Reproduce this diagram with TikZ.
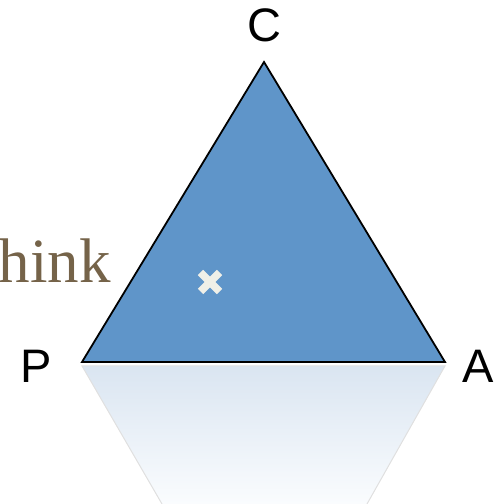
\documentclass[tikz,border=0pt]{standalone}
\usepackage{fontspec}
\setmainfont{Liberation Serif}
\newfontfamily\vertexfont{Liberation Sans}
\usepackage{xcolor}
\usepackage{tikz}
\usetikzlibrary{calc}

\definecolor{triblue}{RGB}{95,149,201}
\definecolor{reflblue}{RGB}{218,229,241}
\definecolor{reflend}{RGB}{250,252,254}
\definecolor{wordbrown}{RGB}{117,99,73}
\definecolor{crosswhite}{RGB}{240,240,232}

\begin{document}
\begin{tikzpicture}[
  x=1pt, y=1pt,
  vlabel/.style={anchor=base, inner sep=0pt, font=\vertexfont\fontsize{47}{50}\selectfont},
  tri/.style={draw=black, line width=1.8pt, fill=triblue, line join=miter},
  refl/.style={top color=reflblue, bottom color=reflend},
  reflside/.style={draw=black!12, line width=1pt},
  crossline/.style={draw=crosswhite, line width=7.5pt},
]
\useasboundingbox (0,0) rectangle (496,504);

% corners of the triangle
\coordinate (C) at (264,442);
\coordinate (P) at (82,142);
\coordinate (A) at (445,142);
% reflection below the base
\coordinate (Pr) at (82,138);
\coordinate (Ar) at (445,138);
\coordinate (Ar2) at (367,0);
\coordinate (Pr2) at (162,0);

\path[refl] (Pr) -- (Ar) -- (Ar2) -- (Pr2) -- cycle;
\draw[reflside] (Pr2) -- (Pr) -- (Ar) -- (Ar2);
\draw[tri] (P) -- (C) -- (A) -- cycle;

\node[vlabel] (lc) at (264,462) {C};
\node[vlabel] (lp) at (36,121) {P};
\node[vlabel] (la) at (478,121) {A};

\node[anchor=base east, inner sep=0pt, text=wordbrown, font=\fontsize{63}{66}\selectfont] (word) at (111,221) {hink};

% the cross
\coordinate (X) at (210,222);
\draw[crossline] ($(X)+(-9.5,-9.5)$) -- ($(X)+(9.5,9.5)$);
\draw[crossline] ($(X)+(-9.5,9.5)$) -- ($(X)+(9.5,-9.5)$);

\end{tikzpicture}
\end{document}
